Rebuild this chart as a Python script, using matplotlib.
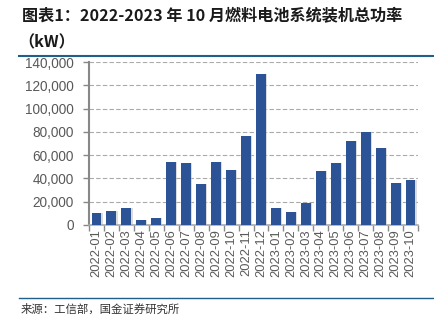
import matplotlib
matplotlib.use("Agg")
import matplotlib.pyplot as plt
from matplotlib.lines import Line2D
from matplotlib.ticker import FuncFormatter, MultipleLocator, FixedLocator
import numpy as np

months = ["2022-01", "2022-02", "2022-03", "2022-04", "2022-05", "2022-06",
          "2022-07", "2022-08", "2022-09", "2022-10", "2022-11", "2022-12",
          "2023-01", "2023-02", "2023-03", "2023-04", "2023-05", "2023-06",
          "2023-07", "2023-08", "2023-09", "2023-10"]
power_kw = [10300, 11800, 14600, 4600, 5700, 54200,
            53100, 35000, 54000, 47000, 76300, 129700,
            14600, 10900, 18900, 46200, 53100, 72000,
            80300, 66000, 36100, 39000]

title1 = "图表1：2022-2023 年 10 月燃料电池系统装机总功率"
title2 = "（kW）"
source = "来源：工信部，国金证券研究所"

cjk = ["Noto Sans CJK SC", "DejaVu Sans"]
bar_color = "#2C5395"
rule_color = "#1F5F8B"
gray = "#595959"

fig = plt.figure(figsize=(4.34, 3.23), dpi=100)
ax = fig.add_axes([89 / 434, 1 - 225 / 323, (418 - 89) / 434, (225 - 62) / 323])

x = np.arange(len(months))
# soft shadow, then the bars
ax.bar(x + 0.08, power_kw, width=0.66, color="#BBBBBB", alpha=0.5, zorder=2)
ax.bar(x, power_kw, width=0.66, color=bar_color, zorder=3)

ax.set_xlim(-0.5, len(months) - 0.5)
ax.set_ylim(0, 140000)
ax.yaxis.set_major_locator(MultipleLocator(20000))
ax.yaxis.set_major_formatter(FuncFormatter(lambda v, p: f"{int(v):,}"))
ax.grid(axis="y", color="#AAAAAA", linestyle=(0, (4, 2)), linewidth=0.8, zorder=0)

ax.set_xticks(x)
ax.set_xticklabels(months, rotation=90, fontfamily="Liberation Sans",
                   fontsize=9.3, color=gray)
ax.tick_params(axis="x", length=0, pad=3)
ax.xaxis.set_minor_locator(FixedLocator(np.arange(-0.5, len(months), 1)))
ax.tick_params(axis="x", which="minor", length=4, color="#888888", width=1)
ax.tick_params(axis="y", length=4, color="#888888", width=1, pad=7)
for lab in ax.get_yticklabels():
    lab.set_fontfamily("Liberation Sans")
    lab.set_fontsize(9.8)
    lab.set_color(gray)

for side in ["top", "right"]:
    ax.spines[side].set_visible(False)
ax.spines["left"].set_color("#888888")
ax.spines["left"].set_linewidth(1.5)
ax.spines["bottom"].set_color("#AAAAAA")
ax.spines["bottom"].set_linewidth(1.2)

fig.text(22 / 434, 1 - 16 / 323, title1, fontfamily=cjk, fontsize=11.6,
         fontweight="bold", fontstyle="italic", color="#1A1A1A", va="center")
fig.text(18 / 434, 1 - 42 / 323, title2, fontfamily=cjk, fontsize=11.6,
         fontweight="bold", fontstyle="italic", color="#1A1A1A", va="center")

fig.add_artist(Line2D([19 / 434, 1], [1 - 56 / 323] * 2, color=rule_color,
                      linewidth=1.5, transform=fig.transFigure))
fig.add_artist(Line2D([19 / 434, 1], [1 - 298 / 323] * 2, color=rule_color,
                      linewidth=1.0, transform=fig.transFigure))
fig.text(21 / 434, 1 - 309 / 323, source, fontfamily=cjk, fontsize=8.2,
         color="#333333", va="center")

fig.savefig("out.png", dpi=100, facecolor="white")
